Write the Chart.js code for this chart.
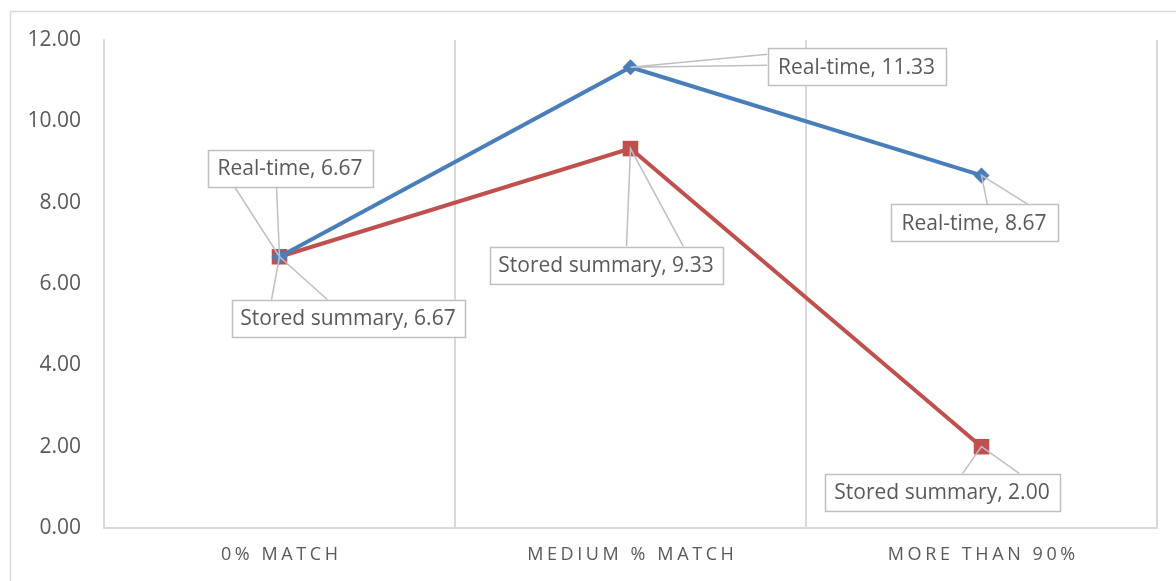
<!DOCTYPE html>
<html>
<head>
<meta charset="utf-8">
<script src="https://cdn.jsdelivr.net/npm/chart.js@4"></script>
<style>
  html, body { margin: 0; padding: 0; background: #fff; }
  #wrap { width: 1176px; height: 581px; position: relative; }
</style>
</head>
<body>
<div id="wrap"><canvas id="c" width="1176" height="581"></canvas></div>
<script>
// Categories and series
const categories = ['0% MATCH', 'MEDIUM % MATCH', 'MORE THAN 90%'];
const realTime = [6.67, 11.33, 8.67];
const storedSummary = [6.67, 9.33, 2.00];
const seriesNames = ['Real-time', 'Stored summary'];

// Axis range
const yMin = 0, yMax = 12, yStep = 2;

const FONT = '"Open Sans", "DejaVu Sans", sans-serif';
const TEXT = '#595959';
const GRID = '#d9d9d9';
const BOX_LINE = '#bfbfbf';

// Callout placement for each labelled point, in pixels relative to the point:
// box = [left, top, width, height]; bases = two points where the pointer leaves the box.
const calloutLayout = [
  [ // Real-time
    { box: [-72, -107, 165, 37], bases: [[-45, -70], [-3, -70]] },
    { box: [137, -19, 178, 37], bases: [[137, -13], [137, -2]] },
    { box: [-91, 29, 167, 37], bases: [[6, 30], [48, 30]] }
  ],
  [ // Stored summary
    { box: [-48, 43, 233, 37], bases: [[-8, 43], [48, 43]] },
    { box: [-141, 98, 233, 37], bases: [[-4, 98], [53, 98]] },
    { box: [-157, 27, 235, 37], bases: [[-19, 27], [38, 27]] }
  ]
];

// Light frame round the whole chart
const framePlugin = {
  id: 'frame',
  beforeDraw(chart) {
    const ctx = chart.ctx;
    ctx.save();
    ctx.strokeStyle = GRID;
    ctx.lineWidth = 1.5;
    ctx.strokeRect(10.5, 11.5, 1300, 700);
    ctx.restore();
  }
};

// Letter-spaced category labels under the x axis
const categoryLabelPlugin = {
  id: 'categoryLabels',
  afterDraw(chart) {
    const ctx = chart.ctx;
    const xs = chart.scales.x;
    const spacing = 3.6;
    ctx.save();
    ctx.font = '18px ' + FONT;
    ctx.fillStyle = TEXT;
    ctx.textAlign = 'center';
    ctx.textBaseline = 'middle';
    if ('letterSpacing' in ctx) ctx.letterSpacing = spacing + 'px';
    categories.forEach((c, i) => {
      ctx.fillText(c, xs.getPixelForValue(i) + spacing / 2, 555);
    });
    ctx.restore();
  }
};

// Boxed data labels with pointers to their points
const calloutPlugin = {
  id: 'callouts',
  afterDatasetsDraw(chart) {
    const ctx = chart.ctx;
    ctx.save();
    chart.data.datasets.forEach((ds, di) => {
      const meta = chart.getDatasetMeta(di);
      meta.data.forEach((pt, j) => {
        const lay = calloutLayout[di][j];
        const px = pt.x, py = pt.y;
        const [bx, by, bw, bh] = lay.box;
        const left = px + bx, top = py + by;
        // pointer
        ctx.strokeStyle = BOX_LINE;
        ctx.lineWidth = 1.5;
        ctx.beginPath();
        ctx.moveTo(px + lay.bases[0][0], py + lay.bases[0][1]);
        ctx.lineTo(px, py);
        ctx.lineTo(px + lay.bases[1][0], py + lay.bases[1][1]);
        ctx.stroke();
        // box
        ctx.fillStyle = '#fff';
        ctx.fillRect(left, top, bw, bh);
        ctx.strokeRect(Math.round(left) + 0.5, Math.round(top) + 0.5, bw, bh);
        // text
        ctx.fillStyle = TEXT;
        ctx.font = '21px ' + FONT;
        ctx.textAlign = 'center';
        ctx.textBaseline = 'middle';
        ctx.fillText(seriesNames[di] + ', ' + ds.data[j].toFixed(2), left + bw / 2, top + bh / 2 + 1);
      });
    });
    ctx.restore();
  }
};

new Chart(document.getElementById('c'), {
  type: 'line',
  data: {
    labels: categories,
    datasets: [
      {
        label: seriesNames[0],
        data: realTime,
        borderColor: '#4a7ebb',
        backgroundColor: '#4a7ebb',
        borderWidth: 4,
        pointStyle: 'rectRot',
        pointRadius: 8,
        pointBorderWidth: 0,
        tension: 0
      },
      {
        label: seriesNames[1],
        data: storedSummary,
        borderColor: '#c0504d',
        backgroundColor: '#c0504d',
        borderWidth: 4,
        pointStyle: 'rect',
        pointRadius: 11,
        pointBorderWidth: 0,
        tension: 0
      }
    ]
  },
  options: {
    responsive: false,
    animation: false,
    devicePixelRatio: 1,
    layout: { padding: { top: 40, right: 19, left: 0, bottom: 0 } },
    plugins: {
      legend: { display: false },
      tooltip: { enabled: false }
    },
    scales: {
      x: {
        offset: true,
        grid: { display: true, offset: true, color: GRID, lineWidth: 2, drawTicks: false },
        border: { display: true, color: GRID, width: 2 },
        ticks: { display: false },
        afterFit(s) { s.height = 53; }
      },
      y: {
        min: yMin,
        max: yMax,
        grid: { display: false, drawTicks: false },
        border: { display: true, color: GRID, width: 2 },
        ticks: {
          stepSize: yStep,
          padding: 23,
          color: TEXT,
          font: { family: FONT, size: 21 },
          callback: v => Number(v).toFixed(2)
        },
        afterFit(s) { s.width = 104; }
      }
    }
  },
  plugins: [framePlugin, categoryLabelPlugin, calloutPlugin]
});
</script>
</body>
</html>
